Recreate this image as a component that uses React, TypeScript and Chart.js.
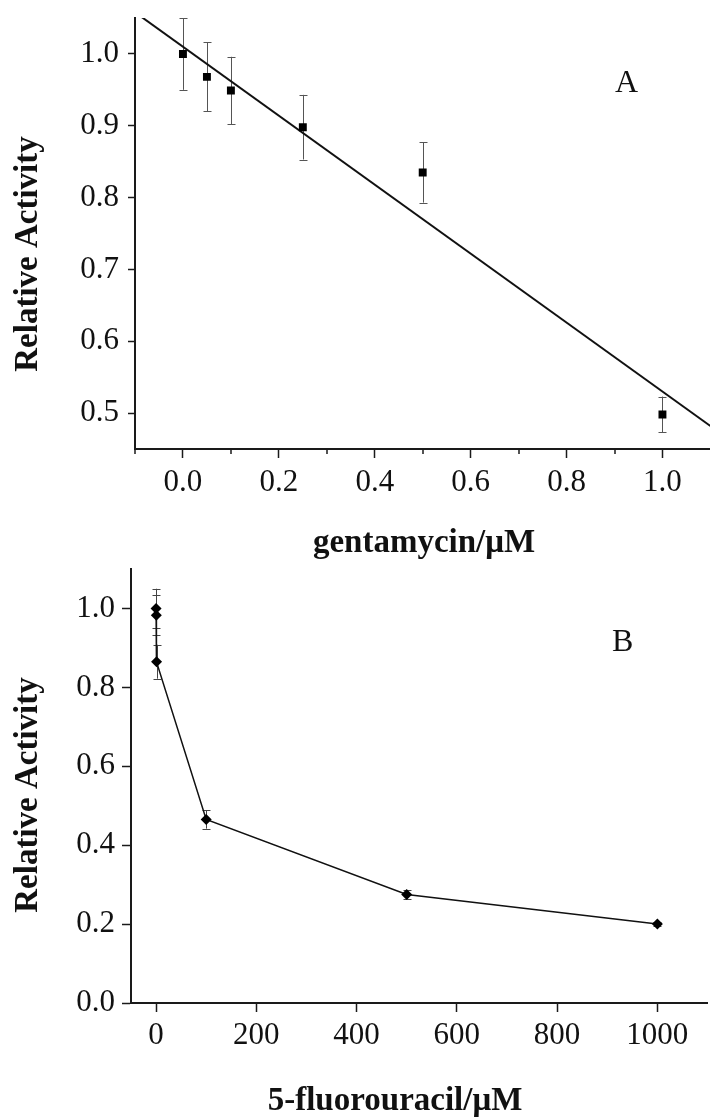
import React, { useEffect, useRef } from "react";
import { Chart, registerables } from "chart.js";

Chart.register(...registerables);

// ---------- Panel A: gentamycin ----------
const aConc = [0, 0.05, 0.1, 0.25, 0.5, 1.0];
const aActivity = [1.0, 0.968, 0.949, 0.898, 0.835, 0.498];
const aError = [0.05, 0.048, 0.047, 0.045, 0.042, 0.025];
const aFitX = [-0.1, 1.1];
const aFitY = [1.058, 0.482];
const aXTicks = [0, 0.2, 0.4, 0.6, 0.8, 1.0];
const aXMinorTicks = [-0.1, 0.1, 0.3, 0.5, 0.7, 0.9];
const aYTicks = [0.5, 0.6, 0.7, 0.8, 0.9, 1.0];

// ---------- Panel B: 5-fluorouracil ----------
const bConc = [0, 0.5, 1, 100, 500, 1000];
const bActivity = [1.0, 0.983, 0.865, 0.465, 0.275, 0.2];
const bError = [0.05, 0.05, 0.043, 0.023, 0.011, 0.005];
const bXTicks = [0, 200, 400, 600, 800, 1000];
const bYTicks = [0, 0.2, 0.4, 0.6, 0.8, 1.0];

const SERIF = '"Liberation Serif", "Times New Roman", serif';
const INK = "#111";
const AXIS = "#1a1a1a";

function errorBarPlugin(dsIndex: number, errors: number[], color: string, cap: number) {
  return {
    id: "errorBars",
    beforeDatasetsDraw(chart: any) {
      const ds = chart.data.datasets[dsIndex];
      const xs = chart.scales.x;
      const ys = chart.scales.y;
      const ctx = chart.ctx;
      ctx.save();
      ctx.strokeStyle = color;
      ctx.lineWidth = 1;
      ds.data.forEach((p: any, i: number) => {
        const px = Math.round(xs.getPixelForValue(p.x)) + 0.5;
        const top = ys.getPixelForValue(p.y + errors[i]);
        const bot = ys.getPixelForValue(p.y - errors[i]);
        ctx.beginPath();
        ctx.moveTo(px, top);
        ctx.lineTo(px, bot);
        ctx.moveTo(px - cap, Math.round(top) + 0.5);
        ctx.lineTo(px + cap, Math.round(top) + 0.5);
        ctx.moveTo(px - cap, Math.round(bot) + 0.5);
        ctx.lineTo(px + cap, Math.round(bot) + 0.5);
        ctx.stroke();
      });
      ctx.restore();
    },
  };
}

function minorTickPlugin(values: number[], len: number) {
  return {
    id: "minorTicks",
    afterDraw(chart: any) {
      const xs = chart.scales.x;
      const ctx = chart.ctx;
      const y0 = chart.chartArea.bottom;
      ctx.save();
      ctx.strokeStyle = AXIS;
      ctx.lineWidth = 1.5;
      values.forEach((v) => {
        const px = Math.round(xs.getPixelForValue(v));
        ctx.beginPath();
        ctx.moveTo(px, y0);
        ctx.lineTo(px, y0 + len);
        ctx.stroke();
      });
      ctx.restore();
    },
  };
}

type TextItem = { text: string; x: number; y: number; font: string; align: CanvasTextAlign; rotate?: boolean };

function textPlugin(items: TextItem[]) {
  return {
    id: "texts",
    afterDraw(chart: any) {
      const ctx = chart.ctx;
      items.forEach((t) => {
        ctx.save();
        ctx.fillStyle = INK;
        ctx.font = t.font;
        ctx.textAlign = t.align;
        ctx.textBaseline = "alphabetic";
        if (t.rotate) {
          ctx.translate(t.x, t.y);
          ctx.rotate(-Math.PI / 2);
          ctx.fillText(t.text, 0, 0);
        } else {
          ctx.fillText(t.text, t.x, t.y);
        }
        ctx.restore();
      });
    },
  };
}

const tickFont = { family: SERIF, size: 31 };
const titleFont = `bold 33px ${SERIF}`;
const letterFont = `32px ${SERIF}`;

function makeScales(opts: {
  xMin: number; xMax: number; xTicks: number[]; xFmt: (v: number) => string;
  yMin: number; yMax: number; yTicks: number[]; yFmt: (v: number) => string;
  yWidth: number; xHeight: number; yTickLen: number; yPad: number; xPad: number;
}) {
  return {
    x: {
      type: "linear",
      min: opts.xMin,
      max: opts.xMax,
      afterBuildTicks: (s: any) => {
        s.min = opts.xMin;
        s.max = opts.xMax;
        s.ticks = opts.xTicks.map((v) => ({ value: v }));
      },
      afterFit: (s: any) => {
        s.height = opts.xHeight;
        s.paddingLeft = 0;
        s.paddingRight = 0;
        s.paddingTop = 0;
        s.paddingBottom = 0;
      },
      ticks: {
        autoSkip: false,
        maxRotation: 0,
        minRotation: 0,
        padding: opts.xPad,
        color: INK,
        font: tickFont,
        callback: (v: any) => opts.xFmt(Number(v)),
      },
      grid: { drawOnChartArea: false, drawTicks: true, tickLength: 9, tickWidth: 1.5, tickColor: AXIS },
      border: { display: true, color: AXIS, width: 2 },
    },
    y: {
      type: "linear",
      min: opts.yMin,
      max: opts.yMax,
      afterBuildTicks: (s: any) => {
        s.min = opts.yMin;
        s.max = opts.yMax;
        s.ticks = opts.yTicks.map((v) => ({ value: v }));
      },
      afterFit: (s: any) => {
        s.width = opts.yWidth;
        s.paddingTop = 0;
        s.paddingBottom = 0;
        s.paddingLeft = 0;
        s.paddingRight = 0;
      },
      ticks: {
        autoSkip: false,
        padding: opts.yPad,
        color: INK,
        font: tickFont,
        callback: (v: any) => opts.yFmt(Number(v)),
      },
      grid: { drawOnChartArea: false, drawTicks: true, tickLength: opts.yTickLen, tickWidth: 1.5, tickColor: AXIS },
      border: { display: true, color: AXIS, width: 2 },
    },
  };
}

const A_W = 716;
const A_H = 560;
const B_W = 713;
const B_H = 557;

function configA(): any {
  return {
    type: "scatter",
    data: {
      datasets: [
        {
          label: "gentamycin",
          data: aConc.map((x, i) => ({ x, y: aActivity[i] })),
          showLine: false,
          pointStyle: "rect",
          pointRadius: 5.6,
          pointBackgroundColor: "#000",
          pointBorderWidth: 0,
          borderColor: "#000",
        },
        {
          label: "fit",
          type: "line",
          data: aFitX.map((x, i) => ({ x, y: aFitY[i] })),
          showLine: true,
          pointRadius: 0,
          borderColor: "#111",
          borderWidth: 2,
          fill: false,
        },
      ],
    },
    options: {
      responsive: false,
      animation: false,
      devicePixelRatio: 1,
      layout: { padding: { top: 18, left: 0, right: 0, bottom: 0 } },
      plugins: { legend: { display: false }, tooltip: { enabled: false } },
      scales: makeScales({
        xMin: -0.1, xMax: 1.1, xTicks: aXTicks, xFmt: (v) => v.toFixed(1),
        yMin: 0.45, yMax: 1.05, yTicks: aYTicks, yFmt: (v) => v.toFixed(1),
        yWidth: 135, xHeight: A_H - 449, yTickLen: 7, yPad: 9, xPad: 6,
      }),
    },
    plugins: [
      errorBarPlugin(0, aError, "#555", 4),
      minorTickPlugin(aXMinorTicks, 5),
      textPlugin([
        { text: "Relative Activity", x: 37, y: 254, font: titleFont, align: "center", rotate: true },
        { text: "gentamycin/\u03bcM", x: 424, y: 552, font: titleFont, align: "center" },
        { text: "A", x: 615, y: 92, font: letterFont, align: "left" },
      ]),
    ],
  };
}

function configB(): any {
  return {
    type: "line",
    data: {
      datasets: [
        {
          label: "5-fluorouracil",
          data: bConc.map((x, i) => ({ x, y: bActivity[i] })),
          showLine: true,
          pointStyle: "rectRot",
          pointRadius: 5.5,
          pointBackgroundColor: "#000",
          pointBorderWidth: 0,
          borderColor: "#111",
          borderWidth: 1.5,
          fill: false,
        },
      ],
    },
    options: {
      responsive: false,
      animation: false,
      devicePixelRatio: 1,
      layout: { padding: { top: 9, left: 0, right: 0, bottom: 0 } },
      plugins: { legend: { display: false }, tooltip: { enabled: false } },
      scales: makeScales({
        xMin: -50, xMax: 1100, xTicks: bXTicks, xFmt: (v) => String(Math.round(v)),
        yMin: 0, yMax: 1.1, yTicks: bYTicks, yFmt: (v) => v.toFixed(1),
        yWidth: 131, xHeight: B_H - 443, yTickLen: 9, yPad: 7, xPad: 5,
      }),
    },
    plugins: [
      errorBarPlugin(0, bError, "#444", 4),
      textPlugin([
        { text: "Relative Activity", x: 37, y: 235, font: titleFont, align: "center", rotate: true },
        { text: "5-fluorouracil/\u03bcM", x: 395, y: 550, font: titleFont, align: "center" },
        { text: "B", x: 612, y: 91, font: letterFont, align: "left" },
      ]),
    ],
  };
}

export default function App() {
  const refA = useRef<HTMLCanvasElement>(null);
  const refB = useRef<HTMLCanvasElement>(null);

  useEffect(() => {
    const a = new Chart(refA.current as HTMLCanvasElement, configA());
    const b = new Chart(refB.current as HTMLCanvasElement, configB());
    return () => {
      a.destroy();
      b.destroy();
    };
  }, []);

  return (
    <div
      style={{
        position: "absolute",
        left: 0,
        top: 0,
        width: 710,
        height: 1117,
        overflow: "hidden",
        background: "#fff",
      }}
    >
      <canvas ref={refA} width={A_W} height={A_H} style={{ position: "absolute", left: 0, top: 0 }} />
      <canvas ref={refB} width={B_W} height={B_H} style={{ position: "absolute", left: 0, top: 560 }} />
    </div>
  );
}
